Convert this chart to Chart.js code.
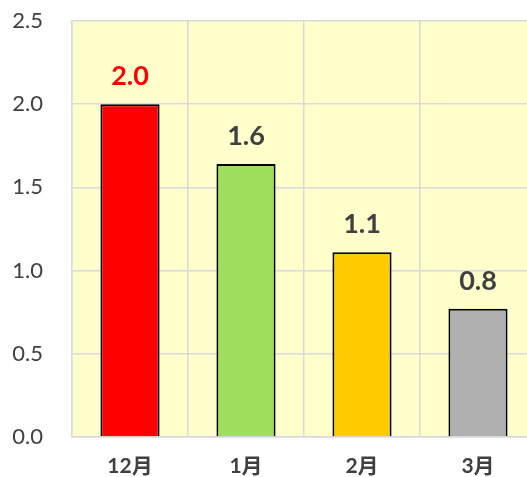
<!DOCTYPE html>
<html><head><meta charset="utf-8">
<script src="https://cdn.jsdelivr.net/npm/chart.js@4/dist/chart.umd.min.js"></script>
<style>html,body{margin:0;padding:0;overflow:hidden;background:#fff}#wrap{width:545px;height:477px;position:relative}</style>
</head><body><div id="wrap"><canvas id="c" width="545" height="477"></canvas></div>
<script>
const categories = ['12月', '1月', '2月', '3月'];
const values = [2.0, 1.64, 1.11, 0.77];
const valueLabels = ['2.0', '1.6', '1.1', '0.8'];
const barColors = ['#ff0000', '#9ede5c', '#ffcc00', '#b0b0b0'];
const labelColors = ['#ff0000', '#404040', '#404040', '#404040'];
const yTicks = [0, 0.5, 1.0, 1.5, 2.0, 2.5];

const bgPlugin = {
  id: 'bg',
  beforeDraw(chart) {
    const {ctx, chartArea: a} = chart;
    ctx.save(); ctx.fillStyle = '#ffffcc';
    ctx.fillRect(a.left, a.top, a.right - a.left, a.bottom - a.top);
    ctx.restore();
  }
};
const labelPlugin = {
  id: 'vlabels',
  afterDatasetsDraw(chart) {
    const {ctx} = chart;
    const meta = chart.getDatasetMeta(0);
    ctx.save();
    ctx.font = 'bold 27px Lato, "Noto Sans CJK JP"';
    ctx.textAlign = 'center'; ctx.textBaseline = 'middle';
    meta.data.forEach((bar, i) => {
      ctx.fillStyle = labelColors[i];
      ctx.fillText(valueLabels[i], bar.x, bar.y - 28);
    });
    ctx.restore();
  }
};

new Chart(document.getElementById('c'), {
  type: 'bar',
  data: { labels: categories, datasets: [{ data: values, backgroundColor: barColors, borderColor: '#000', borderWidth: 2, barPercentage: 0.51, categoryPercentage: 1 }] },
  options: {
    responsive: false, animation: false,
    layout: { padding: { top: 21, right: 9, left: 0, bottom: 0 }, autoPadding: false },
    plugins: { legend: { display: false }, tooltip: { enabled: false } },
    scales: {
      x: {
        grid: { color: '#d9d9d9', lineWidth: 1.5, drawTicks: false, offset: true },
        border: { color: '#d9d9d9', width: 1.5 },
        ticks: { color: '#404040', font: { family: 'Lato, "Noto Sans CJK JP"', size: 21, weight: 'bold' }, padding: 17 },
        afterFit(s) { s.height = 40; s.paddingLeft = 0; s.paddingRight = 0; }
      },
      y: {
        min: 0, max: 2.5,
        afterBuildTicks(s) { s.ticks = yTicks.map(v => ({ value: v })); },
        grid: { color: '#d9d9d9', lineWidth: 1.5, drawTicks: false },
        border: { color: '#d9d9d9', width: 1.5 },
        ticks: { color: '#404040', font: { family: 'Lato', size: 22 }, padding: 29, callback: v => v.toFixed(1) },
        afterFit(s) { s.width = 72; s.paddingTop = 0; s.paddingBottom = 0; }
      }
    }
  },
  plugins: [bgPlugin, labelPlugin]
});
</script></body></html>
